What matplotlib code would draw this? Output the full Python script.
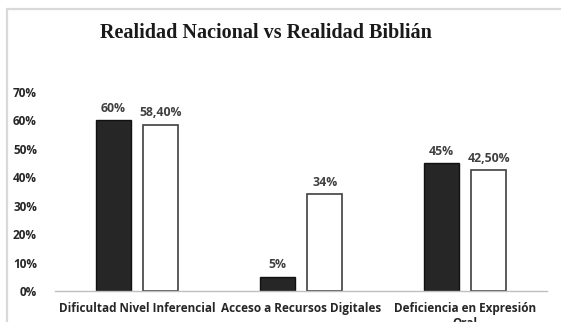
import numpy as np
import matplotlib
matplotlib.use("Agg")
import matplotlib.pyplot as plt
from matplotlib.patches import Rectangle

categories = ["Dificultad Nivel Inferencial", "Acceso a Recursos Digitales",
              "Deficiencia en Expresión\nOral"]
nacional = [0.60, 0.05, 0.45]
biblian = [0.584, 0.34, 0.425]
lab_nacional = ["60%", "5%", "45%"]
lab_biblian = ["58,40%", "34%", "42,50%"]
yticks = [0, 0.1, 0.2, 0.3, 0.4, 0.5, 0.6, 0.7]

SANS = ["Open Sans", "DejaVu Sans"]
INK = "#404040"

fig = plt.figure(figsize=(5.61, 3.22), dpi=100)
fig.patch.set_facecolor("white")
# chart frame (cut by the image edge at right/bottom)
fig.add_artist(Rectangle((7 / 561, -0.1), 1.2, 1 - 9.5 / 322 + 0.1,
                         transform=fig.transFigure, fc="none", ec="#d9d9d9",
                         lw=1.6, zorder=0))

ax = fig.add_axes([55 / 561, 1 - 291 / 322, 492 / 561, 199 / 322])
x = np.arange(len(categories))
w, off = 0.213, 0.145
b1 = ax.bar(x - off, nacional, w, color="#262626", edgecolor="#111111", lw=1.0)
b2 = ax.bar(x + off, biblian, w, color="white", edgecolor="#404040", lw=1.2)
for bars, labs in ((b1, lab_nacional), (b2, lab_biblian)):
    for r, t in zip(bars, labs):
        ax.annotate(t, (r.get_x() + r.get_width() / 2, r.get_height()),
                    xytext=(0, 4), textcoords="offset points", ha="center",
                    va="bottom", fontsize=8.8, fontweight="bold", color=INK,
                    family=SANS)

ax.set_xlim(-0.5, 2.5)
ax.set_ylim(0, 0.7)
ax.set_yticks(yticks)
ax.set_yticklabels([f"{int(round(v * 100))}%" for v in yticks])
ax.set_xticks(x)
ax.set_xticklabels(categories, va="top", linespacing=1.15)
for lbl in ax.get_xticklabels() + ax.get_yticklabels():
    lbl.set_family(SANS); lbl.set_fontweight("bold")
    lbl.set_fontsize(8.5); lbl.set_color("#262626")
ax.tick_params(axis="both", length=0)
ax.tick_params(axis="y", pad=13)
ax.tick_params(axis="x", pad=8)
for s in ("top", "right", "left"):
    ax.spines[s].set_visible(False)
ax.spines["bottom"].set_color("#bfbfbf")
ax.spines["bottom"].set_linewidth(1.0)

fig.text(266 / 561, 1 - 33 / 322, "Realidad Nacional vs Realidad Biblián",
         ha="center", va="center", fontsize=14.5, fontweight="bold",
         family="Liberation Serif", color="#1a1a1a")

fig.savefig("out.png", dpi=100)
